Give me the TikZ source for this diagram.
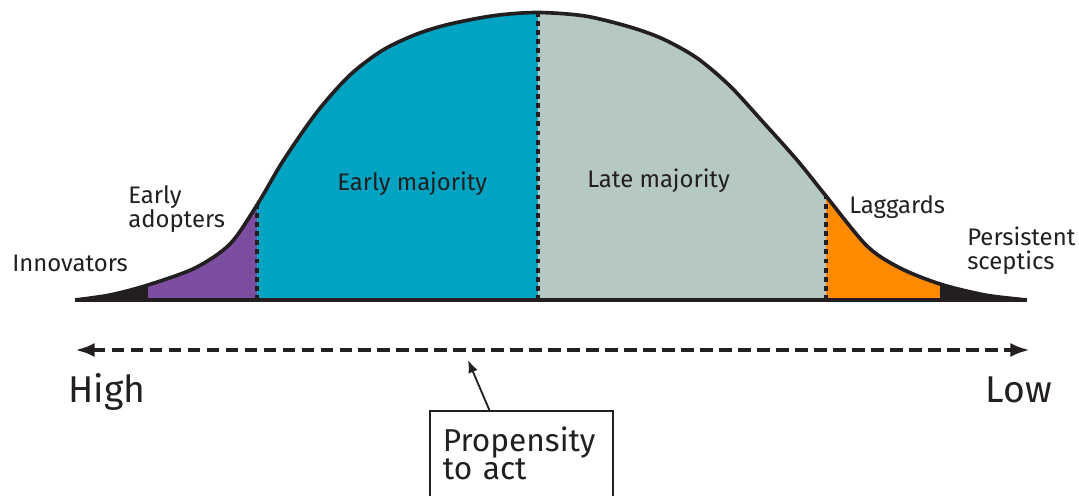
\documentclass[tikz,border=0pt]{standalone}
\usepackage{fontspec}
\setmainfont{Fira Sans}
\usetikzlibrary{arrows.meta}
\definecolor{ink}{RGB}{35,31,32}
\definecolor{adoptcol}{RGB}{124,78,161}
\definecolor{earlycol}{RGB}{0,164,194}
\definecolor{latecol}{RGB}{181,200,195}
\definecolor{laggcol}{RGB}{255,138,0}
\tikzset{
  grouplabel/.style={font=\fontsize{17}{17}\selectfont, text=ink, align=left, inner sep=0pt},
  endlabel/.style={font=\fontsize{26.5}{26.5}\selectfont, text=ink, inner sep=0pt},
  divider/.style={ink, line width=2.8pt, dash pattern=on 3.5pt off 3pt},
  bellline/.style={ink, line width=2.6pt, line join=round},
  propaxis/.style={ink, line width=2.8pt, dash pattern=on 9pt off 4.5pt, {Latex[length=14pt,width=10pt]}-{Latex[length=14pt,width=10pt]}},
  pointer/.style={ink, line width=1.3pt, -{Latex[length=9pt,width=7pt]}},
  propbox/.style={draw=ink, line width=1.4pt, font=\fontsize{22.5}{20.5}\selectfont, text=ink,
    align=left, text width=112pt, inner xsep=9.2pt, inner ysep=11pt, text depth=60pt}
}
\begin{document}
\begin{tikzpicture}[x=0.025cm,y=-0.025cm]
\useasboundingbox (0,0) rectangle (1079,495);
\def\bell{plot[smooth] coordinates {(75,300) (110,295) (148,285) (195,268) (230,244) (257,205)
  (283,161) (317,112) (350,75) (383,50) (417,34) (450,24) (495,15.5) (538,12.5) (585,16) (630,27)
  (663,39) (697,58) (730,86) (763,122) (797,160) (826,196) (867,246) (900,268) (940,284)
  (985,295) (1027,300)}}
% the groups under the curve
\begin{scope}
\clip \bell -- cycle;
\fill[ink] (70,0) rectangle (1030,305);
\fill[adoptcol] (148,0) rectangle (257,305);
\fill[earlycol] (257,0) rectangle (538,305);
\fill[latecol] (538,0) rectangle (826,305);
\fill[laggcol] (826,0) rectangle (940,305);
\end{scope}
\draw[divider] (257,300) -- (257,204);
\draw[divider] (538,300) -- (538,12);
\draw[divider] (826,300) -- (826,195);
\draw[bellline] \bell;
\draw[ink, line width=2.8pt] (75,300) -- (1027,300);
\node[grouplabel, anchor=base west] (innov) at (12,271) {Innovators};
\node[grouplabel, anchor=base west] (adopt) at (128,227) {Early\\adopters};
\node[grouplabel, anchor=base west] (early) at (337,190) {Early majority};
\node[grouplabel, anchor=base west] (late) at (587,187) {Late majority};
\node[grouplabel, anchor=base west] (lagg) at (849,213) {Laggards};
\node[grouplabel, anchor=base west] (scept) at (967,269) {Persistent\\sceptics};
% propensity axis
\coordinate (hi) at (75,350); \coordinate (lo) at (1030,350);
\draw[propaxis] (hi) -- (lo);
\node[endlabel, anchor=base west] (high) at (68,402) {High};
\node[endlabel, anchor=base east] (low) at (1052,402) {Low};
\node[propbox, anchor=north west] (prop) at (429,410) {Propensity\\to act};
\coordinate (aim) at (468,360);
\draw[pointer] ([xshift=-23pt]prop.north) -- (aim);
\end{tikzpicture}
\end{document}
